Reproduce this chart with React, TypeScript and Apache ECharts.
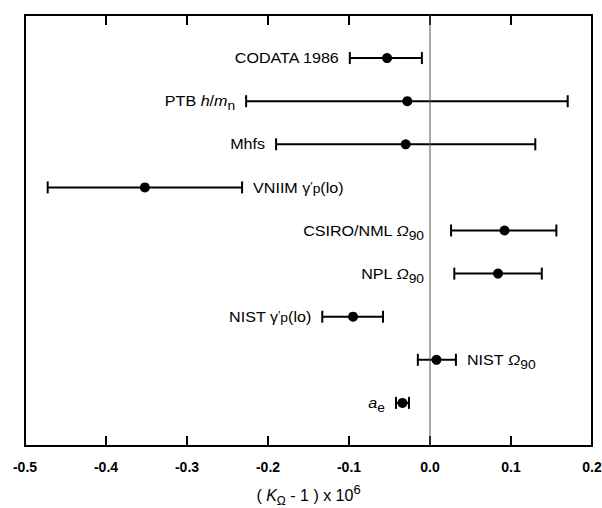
import React, { useEffect, useRef } from "react";
import * as echarts from "echarts";

const labels = [
  "CODATA 1986",
  "PTB {i|h}{n|/}{i|m}{sub|n}",
  "Mhfs",
  "VNIIM γ{sup|′}{sub|p}(lo)",
  "CSIRO/NML {i|Ω}{sub|90}",
  "NPL {i|Ω}{sub|90}",
  "NIST γ{sup|′}{sub|p}(lo)",
  "NIST {i|Ω}{sub|90}",
  "{i|a}{sub|e}",
];
const centers = [-0.053, -0.028, -0.03, -0.352, 0.092, 0.084, -0.095, 0.008, -0.034];
const lows = [-0.099, -0.227, -0.19, -0.472, 0.026, 0.03, -0.133, -0.015, -0.042];
const highs = [-0.01, 0.17, 0.13, -0.232, 0.156, 0.138, -0.058, 0.032, -0.026];
const labelSides = ["left", "left", "left", "right", "zero", "zero", "left", "right", "left"];
const xTicks = [-0.5, -0.4, -0.3, -0.2, -0.1, 0.0, 0.1, 0.2];

const FONT = "'Liberation Sans', Arial, Helvetica, sans-serif";

const rich = {
  n: { fontSize: 14, fontFamily: FONT, lineHeight: 22, verticalAlign: "middle" as const },
  i: { fontSize: 14, fontFamily: FONT, fontStyle: "italic" as const, lineHeight: 22 },
  sub: { fontSize: 12, fontFamily: FONT, lineHeight: 12, verticalAlign: "bottom" as const },
  sup: { fontSize: 11, fontFamily: FONT, lineHeight: 11, verticalAlign: "top" as const },
};

export default function App() {
  const ref = useRef<HTMLDivElement>(null);
  useEffect(() => {
    if (!ref.current) return;
    const chart = echarts.init(ref.current, undefined, { renderer: "svg" });
    const data = centers.map((c, i) => [c, i + 1, lows[i], highs[i], i]);
    const topTickData = xTicks.map((t) => [t, 0]);
    const option: any = {
      animation: false,
      backgroundColor: "#fff",
      grid: {
        left: 25,
        right: 10,
        top: 15,
        bottom: 62,
        show: true,
        borderColor: "#000",
        borderWidth: 2,
        backgroundColor: "transparent",
        containLabel: false,
        outerBoundsMode: "none",
      },
      xAxis: {
        type: "value",
        min: -0.5,
        max: 0.2,
        interval: 0.1,
        position: "bottom",
        axisLine: { show: false, onZero: false },
        axisTick: { show: true, inside: true, length: 10, lineStyle: { color: "#000", width: 2 } },
        splitLine: { show: false },
        axisLabel: {
          color: "#000",
          fontSize: 14,
          fontWeight: "bold",
          fontFamily: FONT,
          margin: 14,
          formatter: (v: number) => {
            const t = xTicks.find((x) => Math.abs(x - v) < 1e-9);
            return t === undefined ? "" : t.toFixed(1);
          },
        },
        name: "( {i|K}{sub|Ω} - 1 ) x 10{sup|6}",
        nameLocation: "middle",
        nameGap: 37,
        nameTextStyle: {
          color: "#000",
          fontSize: 16,
          fontFamily: FONT,
          rich: {
            i: { fontSize: 16, fontFamily: FONT, fontStyle: "italic", lineHeight: 24, color: "#000" },
            sub: { fontSize: 12, fontFamily: FONT, lineHeight: 12, verticalAlign: "bottom", color: "#000" },
            sup: { fontSize: 13, fontFamily: FONT, lineHeight: 13, verticalAlign: "top", color: "#000" },
          },
        },
      },
      yAxis: {
        type: "value",
        min: 0,
        max: 10,
        inverse: true,
        show: false,
      },
      series: [
        {
          type: "line",
          data: [
            [0, 0],
            [0, 10],
          ],
          symbol: "none",
          lineStyle: { color: "#555", width: 1 },
          silent: true,
        },
        {
          type: "custom",
          data: topTickData,
          silent: true,
          renderItem: (params: any, api: any) => {
            const p = api.coord([api.value(0), api.value(1)]);
            return {
              type: "line",
              shape: { x1: p[0], y1: p[1], x2: p[0], y2: p[1] + 10 },
              style: { stroke: "#000", lineWidth: 2 },
            };
          },
        },
        {
          type: "custom",
          data,
          renderItem: (params: any, api: any) => {
            const c = api.value(0);
            const y = api.value(1);
            const lo = api.value(2);
            const hi = api.value(3);
            const idx = api.value(4);
            const pc = api.coord([c, y]);
            const pl = api.coord([lo, y]);
            const ph = api.coord([hi, y]);
            const pz = api.coord([0, y]);
            const capH = 6;
            const ls = { stroke: "#000", lineWidth: 2 };
            const side = labelSides[idx];
            let tx = pl[0] - 11;
            let align = "right";
            if (side === "right") {
              tx = ph[0] + 11;
              align = "left";
            } else if (side === "zero") {
              tx = pz[0] - 6;
            }
            return {
              type: "group",
              children: [
                { type: "line", shape: { x1: pl[0], y1: pc[1], x2: ph[0], y2: pc[1] }, style: ls },
                { type: "line", shape: { x1: pl[0], y1: pc[1] - capH, x2: pl[0], y2: pc[1] + capH }, style: ls },
                { type: "line", shape: { x1: ph[0], y1: pc[1] - capH, x2: ph[0], y2: pc[1] + capH }, style: ls },
                { type: "circle", shape: { cx: pc[0], cy: pc[1], r: 5 }, style: { fill: "#000" } },
                {
                  type: "text",
                  x: tx,
                  y: pc[1],
                  scaleX: 1.15,
                  style: {
                    text: labels[idx],
                    fill: "#000",
                    fontSize: 14,
                    fontFamily: FONT,
                    align,
                    verticalAlign: "middle",
                    rich,
                  },
                },
              ],
            };
          },
        },
      ],
    };
    chart.setOption(option);
    return () => chart.dispose();
  }, []);
  return (
    <div
      ref={ref}
      style={{ position: "fixed", left: 0, top: 0, width: 602, height: 508, background: "#fff" }}
    />
  );
}
